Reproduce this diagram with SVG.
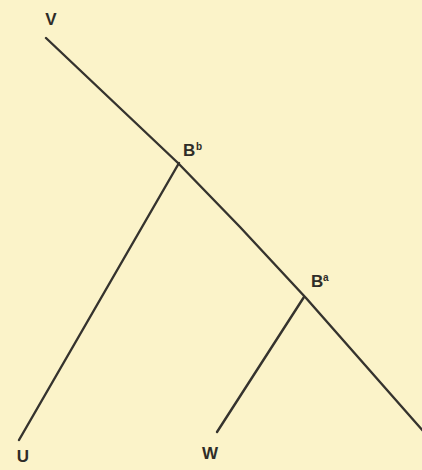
<svg xmlns="http://www.w3.org/2000/svg" width="422" height="470" viewBox="0 0 422 470">
<style>
.ln{fill:none;stroke:#35332e;stroke-width:2.4;stroke-linecap:round;stroke-linejoin:round}
.lb{font-family:"Liberation Sans",Arial,sans-serif;font-size:17px;font-weight:bold;fill:#2e2c28}
.sp{font-family:"Liberation Sans",Arial,sans-serif;font-size:10px;font-weight:bold;fill:#2e2c28}
</style>
<rect width="422" height="470" fill="#fbf3c9"/>
<g id="connectors">
<path class="ln" d="M46,38 L178,163 L240,227 L306,298 L424,432"/>
<path class="ln" d="M179,163 L19,440"/>
<path class="ln" d="M304,297 L217,432"/>
</g>
<g id="V"><text class="lb" x="51" y="25" text-anchor="middle">V</text></g>
<g id="Bb"><text class="lb" x="183" y="156">B</text><text class="sp" x="196" y="150">b</text></g>
<g id="Ba"><text class="lb" x="311" y="287">B</text><text class="sp" x="323" y="281">a</text></g>
<g id="U"><text class="lb" x="23" y="462" text-anchor="middle">U</text></g>
<g id="W"><text class="lb" x="210" y="459" text-anchor="middle">W</text></g>
</svg>
